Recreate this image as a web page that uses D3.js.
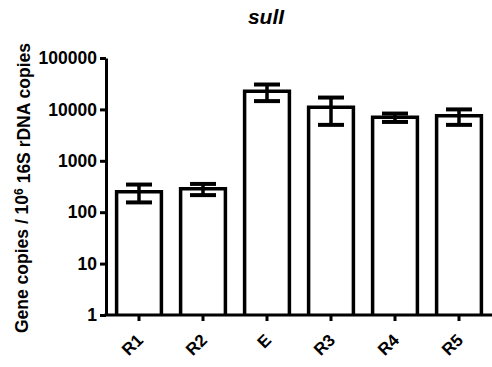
<!DOCTYPE html>
<head>
  <meta charset="utf-8">
  <title>sulI</title>
  <style>
    body { margin: 0; background: #fff; }
    text { font-family: Arial, "Liberation Sans", sans-serif; font-weight: bold; fill: #000; }
    .axis path, .axis line { stroke: #000; stroke-width: 3px; }
    .bar { fill: #fff; stroke: #000; stroke-width: 3.5px; }
    .err { stroke: #000; stroke-width: 3.5px; fill: none; }
  </style>
</head>
<body>
  <div id="chart"></div>
  <script src="https://cdn.jsdelivr.net/npm/d3@7/dist/d3.min.js"></script>
  <script>
    var width = 492,
        height = 367;

    // data
    var samples = ["R1", "R2", "E", "R3", "R4", "R5"];
    var means = [250, 285, 22500, 11000, 7000, 7500];
    var errs = [95, 70, 8000, 6000, 1300, 2500];
    var yTicks = [1, 10, 100, 1000, 10000, 100000];

    var svg = d3.select("#chart")
        .append("svg")
        .attr("width", width)
        .attr("height", height);

    var x = d3.scaleBand()
        .domain(samples)
        .range([107, 491])
        .paddingInner(0.3)
        .paddingOuter(0.15);

    var y = d3.scaleLog()
        .domain([1, 100000])
        .range([315, 58]);

    var data = samples.map(function(s, i) {
      return {name: s, value: means[i], err: errs[i]};
    });

    // bars
    svg.selectAll(".bar")
        .data(data)
        .enter().append("path")
        .attr("class", "bar")
        .attr("d", function(d) {
          var x0 = x(d.name), x1 = x(d.name) + x.bandwidth();
          return "M" + x0 + "," + y(1) + "V" + y(d.value) + "H" + x1 + "V" + y(1);
        });

    // error bars
    var capW = 13;
    var eb = svg.selectAll(".err")
        .data(data)
        .enter().append("g")
        .attr("class", "err");
    eb.append("line")
        .attr("x1", function(d) { return x(d.name) + x.bandwidth() / 2; })
        .attr("x2", function(d) { return x(d.name) + x.bandwidth() / 2; })
        .attr("y1", function(d) { return y(d.value - d.err); })
        .attr("y2", function(d) { return y(d.value + d.err); });
    eb.append("line")
        .attr("x1", function(d) { return x(d.name) + x.bandwidth() / 2 - capW; })
        .attr("x2", function(d) { return x(d.name) + x.bandwidth() / 2 + capW; })
        .attr("y1", function(d) { return y(d.value + d.err); })
        .attr("y2", function(d) { return y(d.value + d.err); })
        .style("stroke-width", "4px");
    eb.append("line")
        .attr("x1", function(d) { return x(d.name) + x.bandwidth() / 2 - capW; })
        .attr("x2", function(d) { return x(d.name) + x.bandwidth() / 2 + capW; })
        .attr("y1", function(d) { return y(d.value - d.err); })
        .attr("y2", function(d) { return y(d.value - d.err); })
        .style("stroke-width", "4px");

    // y axis
    var yAxis = svg.append("g")
        .attr("class", "axis")
        .attr("transform", "translate(106,0)")
        .call(d3.axisLeft(y).tickValues(yTicks).tickFormat(d3.format("d")).tickSizeInner(6).tickSizeOuter(0).tickPadding(3));
    yAxis.selectAll("text").style("font-size", "17.5px");

    // x axis
    var xAxis = svg.append("g")
        .attr("class", "axis")
        .attr("transform", "translate(0,315)")
        .call(d3.axisBottom(x).tickSizeInner(6).tickSizeOuter(0));
    xAxis.select(".domain").attr("d", "M104.5,0H492");
    xAxis.selectAll("text")
        .style("font-size", "17px")
        .style("text-anchor", "end")
        .attr("x", 1)
        .attr("y", 22)
        .attr("dy", "0.35em")
        .attr("transform", "rotate(-45,1,22)");

    // title
    svg.append("text")
        .attr("x", 266)
        .attr("y", 24)
        .attr("text-anchor", "middle")
        .style("font-size", "21px")
        .style("font-style", "italic")
        .text("sulI");

    // y label
    var yl = svg.append("text")
        .attr("transform", "translate(28,188) rotate(-90)")
        .attr("text-anchor", "middle")
        .style("font-size", "17.5px");
    yl.append("tspan").text("Gene copies / 10");
    yl.append("tspan").attr("dy", "-0.45em").style("font-size", "12px").text("6");
    yl.append("tspan").attr("dy", "0.45em").text(" 16S rDNA copies");
  </script>
</body>
